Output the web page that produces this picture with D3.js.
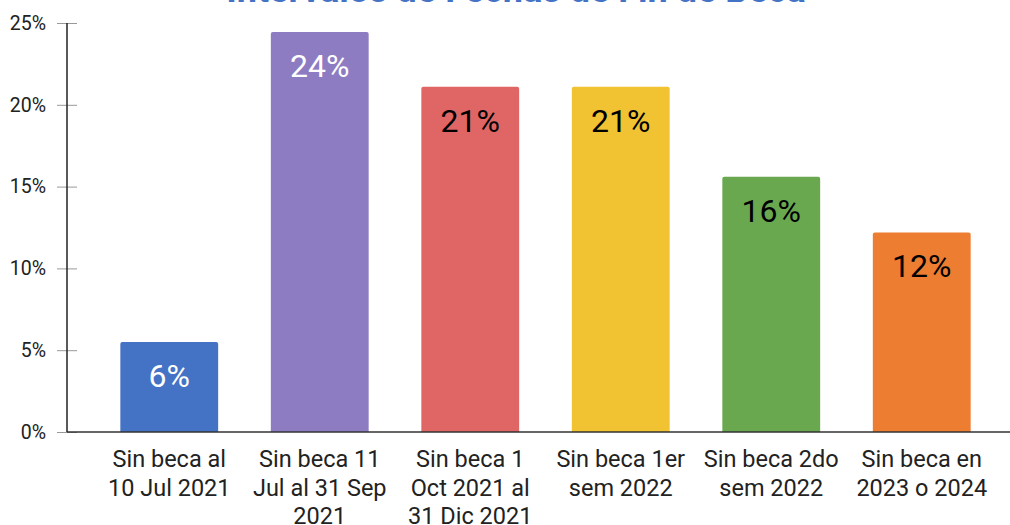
<!DOCTYPE html>
<html>
<head>
<meta charset="utf-8">
<script src="https://cdn.jsdelivr.net/npm/d3@7"></script>
<style>
  body { margin: 0; background: #fff; }
  svg { display: block; font-family: Roboto, "Noto Sans", sans-serif; }
</style>
</head>
<body>
<div id="chart"></div>
<script>
var title = "Intervalos de Fechas de Fin de Beca";
var categories = [
    ["Sin beca al", "10 Jul 2021"],
    ["Sin beca 11", "Jul al 31 Sep", "2021"],
    ["Sin beca 1", "Oct 2021 al", "31 Dic 2021"],
    ["Sin beca 1er", "sem 2022"],
    ["Sin beca 2do", "sem 2022"],
    ["Sin beca en", "2023 o 2024"]
];
var values = [5.5, 24.45, 21.1, 21.1, 15.6, 12.2];
var valueLabels = ["6%", "24%", "21%", "21%", "16%", "12%"];
var colors = ["#4472c4", "#8e7cc3", "#e06666", "#f1c232", "#6aa84f", "#ed7d31"];
var labelColors = ["#ffffff", "#ffffff", "#000000", "#000000", "#000000", "#000000"];
var yTicks = [0, 5, 10, 15, 20, 25];

var svgWidth = 1010;
var svgHeight = 525;
var axisX = 67;
var baseY = 432;
var topY = 23;

var svg = d3.select("#chart").append("svg")
    .attr("width", svgWidth)
    .attr("height", svgHeight);

// title mostly cropped off the top edge
svg.append("text")
    .attr("x", 516)
    .attr("y", 2)
    .attr("text-anchor", "middle")
    .attr("font-size", 36)
    .attr("font-weight", "bold")
    .attr("fill", "#4472c4")
    .text(title);

var x = d3.scaleBand()
    .domain(d3.range(values.length))
    .range([94, 997])
    .paddingInner(0.35)
    .paddingOuter(0.175);

var y = d3.scaleLinear().domain([0, 25]).range([baseY, topY]);

// y axis ticks + labels
var yAxis = svg.append("g")
    .attr("transform", "translate(" + axisX + ",0)")
    .call(d3.axisLeft(y).tickValues(yTicks).tickSize(10).tickFormat(function(d) { return d + "%"; }));
yAxis.select(".domain").remove();
yAxis.selectAll(".tick line").attr("stroke", "#999").attr("x2", 10).attr("x1", -10);
yAxis.selectAll(".tick text")
    .attr("x", -21)
    .attr("font-size", 19.5)
    .attr("fill", "#222")
    .attr("font-family", "Roboto, sans-serif");

// bars
var radius = 2;
svg.append("g").selectAll("path").data(values).enter().append("path")
    .attr("fill", function(d, i) { return colors[i]; })
    .attr("d", function(d, i) {
        var x0 = x(i), w = x.bandwidth(), y0 = y(d), y1 = y(0);
        return "M" + x0 + "," + y1 +
            "V" + (y0 + radius) +
            "Q" + x0 + "," + y0 + " " + (x0 + radius) + "," + y0 +
            "H" + (x0 + w - radius) +
            "Q" + (x0 + w) + "," + y0 + " " + (x0 + w) + "," + (y0 + radius) +
            "V" + y1 + "Z";
    });

// value labels
svg.append("g").selectAll("text").data(values).enter().append("text")
    .attr("x", function(d, i) { return x(i) + x.bandwidth() / 2; })
    .attr("y", function(d) { return y(d) + 45; })
    .attr("text-anchor", "middle")
    .attr("font-size", 32)
    .attr("fill", function(d, i) { return labelColors[i]; })
    .text(function(d, i) { return valueLabels[i]; });

// axis lines
svg.append("line")
    .attr("x1", axisX).attr("x2", svgWidth)
    .attr("y1", baseY).attr("y2", baseY)
    .attr("stroke", "#333").attr("stroke-width", 1.5);
svg.append("line")
    .attr("x1", axisX).attr("x2", axisX)
    .attr("y1", topY).attr("y2", baseY)
    .attr("stroke", "#222").attr("stroke-width", 1.5);

// category labels
var cat = svg.append("g").selectAll("text").data(categories).enter().append("text")
    .attr("x", function(d, i) { return x(i) + x.bandwidth() / 2; })
    .attr("y", 467)
    .attr("text-anchor", "middle")
    .attr("font-size", 23.5)
    .attr("fill", "#222");
cat.selectAll("tspan").data(function(d) { return d; }).enter().append("tspan")
    .attr("x", function() { return d3.select(this.parentNode).attr("x"); })
    .attr("dy", function(d, j) { return j === 0 ? 0 : 28.5; })
    .text(function(d) { return d; });
</script>
</body>
</html>
